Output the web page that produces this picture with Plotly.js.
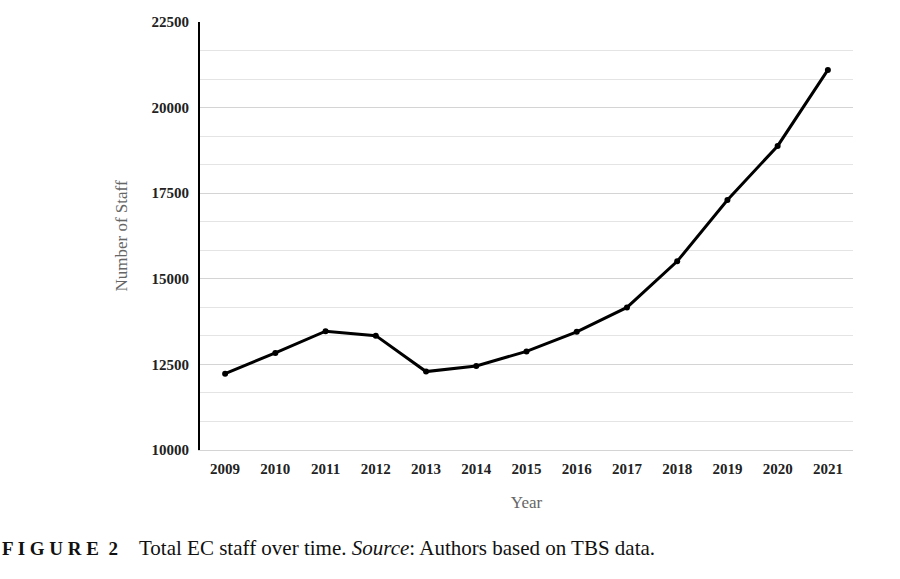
<!DOCTYPE html>
<html>
<head>
<meta charset="utf-8">
<script src="https://cdn.plot.ly/plotly-3.0.1.min.js"></script>
<style>
  html, body { margin: 0; padding: 0; background: #fff; }
  #plot { width: 900px; height: 579px; }
</style>
</head>
<body>
<div id="plot"></div>
<script>
// staff counts
const years = ["2009", "2010", "2011", "2012", "2013", "2014", "2015",
               "2016", "2017", "2018", "2019", "2020", "2021"];
const staff = [12230, 12835, 13470, 13340, 12290, 12455, 12880,
               13450, 14165, 15510, 17300, 18880, 21100];
const yTicks = [10000, 12500, 15000, 17500, 20000, 22500];

const serif = "Liberation Serif";

const trace = {
    x: years,
    y: staff,
    type: "scatter",
    mode: "lines+markers",
    line: { color: "#000", width: 3 },
    marker: { color: "#000", size: 6 },
    hoverinfo: "x+y"
};

const layout = {
    width: 900,
    height: 579,
    margin: { l: 200, r: 47, t: 22, b: 129 },
    paper_bgcolor: "#fff",
    plot_bgcolor: "#fff",
    showlegend: false,
    font: { family: serif, color: "#000" },
    xaxis: {
        type: "category",
        range: [-0.5, 12.5],
        showgrid: false,
        showline: true,
        linecolor: "#d4d4d4",
        linewidth: 1,
        ticks: "outside",
        ticklen: 5,
        tickcolor: "rgba(0,0,0,0)",
        tickfont: { family: serif, size: 15, color: "#222", weight: "bold" },
        title: {
            text: "Year",
            font: { family: serif, size: 17, color: "#666" },
            standoff: 20
        }
    },
    yaxis: {
        range: [10000, 22500],
        tickvals: yTicks,
        ticktext: yTicks.map(String),
        showgrid: true,
        gridcolor: "#d4d4d4",
        gridwidth: 1,
        zeroline: false,
        showline: true,
        linecolor: "#000",
        linewidth: 2,
        ticks: "outside",
        ticklen: 6,
        tickcolor: "rgba(0,0,0,0)",
        tickfont: { family: serif, size: 15, color: "#222", weight: "bold" },
        minor: {
            dtick: 2500 / 3,
            tick0: 10000,
            showgrid: true,
            gridcolor: "#e4e4e4",
            gridwidth: 1
        },
        title: {
            text: "Number of Staff",
            font: { family: serif, size: 17, color: "#666" },
            standoff: 20
        }
    },
    annotations: [
        {
            xref: "paper", yref: "paper",
            x: -200 / 653, y: -98 / 428,
            xanchor: "left", yanchor: "middle",
            showarrow: false,
            text: "<b>F I G U R E  2</b>",
            font: { family: serif, size: 19, color: "#111" }
        },
        {
            xref: "paper", yref: "paper",
            x: -63 / 653, y: -98 / 428,
            xanchor: "left", yanchor: "middle",
            showarrow: false,
            text: "Total EC staff over time. <i>Source</i>: Authors based on TBS data.",
            font: { family: serif, size: 21, color: "#111" }
        }
    ]
};

const config = { displayModeBar: false, staticPlot: true };

Plotly.newPlot("plot", [trace], layout, config);
</script>
</body>
</html>
